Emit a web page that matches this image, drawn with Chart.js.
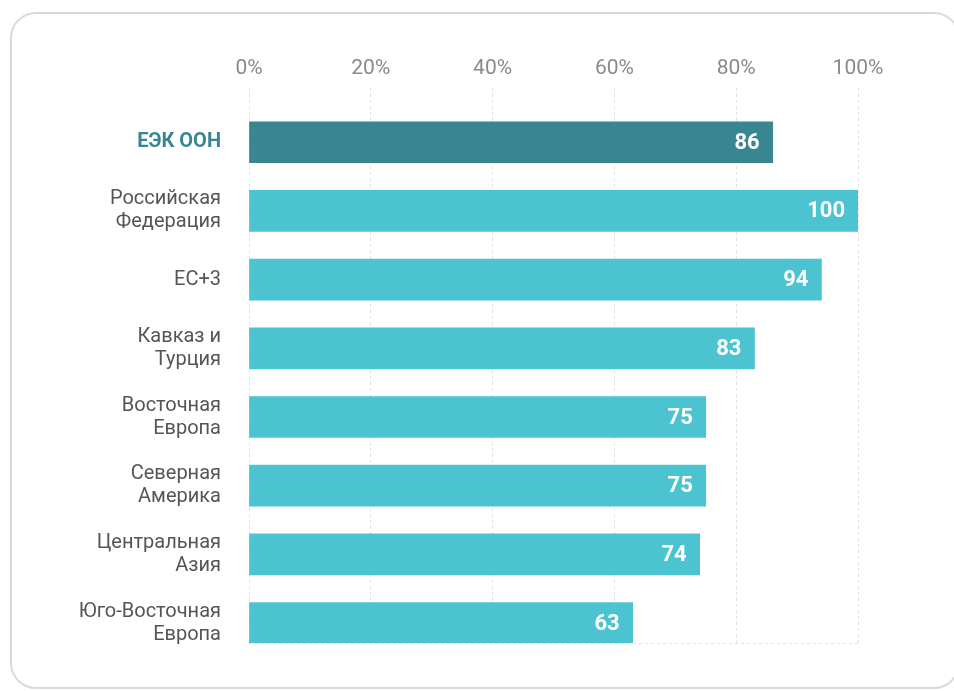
<!DOCTYPE html>
<html lang="ru">
<head>
    <meta charset="UTF-8">
    <title>ЕЭК ООН</title>
    <script src="https://cdn.jsdelivr.net/npm/chart.js"></script>
    <style>
        body { margin: 0; background: #fff; }
        #card { position: absolute; left: 10px; top: 12px; width: 950px; height: 677px;
                border: 2px solid #dadada; border-radius: 26px; box-sizing: border-box; }
        #c { position: absolute; left: 0; top: 0; }
    </style>
</head>
<body>
    <div id="card"></div>
    <canvas id="c" width="954" height="691"></canvas>

    <script>
        const regions = [
            'ЕЭК ООН',
            ['Российская', 'Федерация'],
            'ЕС+3',
            ['Кавказ и', 'Турция'],
            ['Восточная', 'Европа'],
            ['Северная', 'Америка'],
            ['Центральная', 'Азия'],
            ['Юго-Восточная', 'Европа']
        ];
        const scores = [86, 100, 94, 83, 75, 75, 74, 63];
        const xTicks = [0, 20, 40, 60, 80, 100];

        const dark = '#38868f';
        const light = '#4bc3d0';

        // value labels drawn inside the end of each bar
        const valueLabels = {
            id: 'valueLabels',
            afterDatasetsDraw(chart) {
                const ctx = chart.ctx;
                const meta = chart.getDatasetMeta(0);
                ctx.save();
                ctx.font = 'bold 22px Roboto';
                ctx.fillStyle = '#fff';
                ctx.textAlign = 'right';
                ctx.textBaseline = 'middle';
                meta.data.forEach((bar, i) => {
                    ctx.fillText(String(scores[i]), bar.x - 13, bar.y + 1);
                });
                ctx.restore();
            }
        };

        // dashed line along the bottom of the plot
        const bottomLine = {
            id: 'bottomLine',
            beforeDatasetsDraw(chart) {
                const { ctx, chartArea } = chart;
                ctx.save();
                ctx.strokeStyle = '#e2e2e2';
                ctx.lineWidth = 1;
                ctx.setLineDash([3, 3]);
                ctx.beginPath();
                ctx.moveTo(chartArea.left, chartArea.bottom + 0.5);
                ctx.lineTo(chartArea.right, chartArea.bottom + 0.5);
                ctx.stroke();
                ctx.restore();
            }
        };

        new Chart(document.getElementById('c'), {
            type: 'bar',
            data: {
                datasets: [{
                    data: scores.map((v, i) => ({ x: v, y: i })),
                    backgroundColor: ctx => ctx.dataIndex === 0 ? dark : light,
                    barThickness: 41
                }]
            },
            options: {
                indexAxis: 'y',
                responsive: false,
                animation: false,
                layout: { padding: { left: 10, top: 0, right: 96, bottom: 48 } },
                plugins: { legend: { display: false }, tooltip: { enabled: false } },
                scales: {
                    x: {
                        position: 'top',
                        min: 0,
                        max: 100,
                        afterBuildTicks: s => { s.ticks = xTicks.map(v => ({ value: v })); },
                        afterFit: s => { s.height = 88; },
                        grid: { color: '#e2e2e2', lineWidth: 1, drawTicks: false },
                        border: { display: false, dash: [3, 3] },
                        ticks: {
                            padding: 7,
                            color: '#8a8a8a',
                            font: { family: 'Roboto', size: 21 },
                            callback: v => v + '%'
                        }
                    },
                    y: {
                        type: 'linear',
                        reverse: true,
                        offset: false,
                        min: -0.79,
                        max: 7.29,
                        afterFit: s => { s.width = 239; },
                        grid: { display: false, offset: false },
                        border: { display: false },
                        ticks: {
                            stepSize: 1,
                            includeBounds: false,
                            padding: 20,
                            color: ctx => ctx.tick && ctx.tick.value === 0 ? dark : '#555',
                            font: ctx => ({
                                family: 'Roboto',
                                size: 20,
                                weight: ctx.tick && ctx.tick.value === 0 ? 'bold' : 'normal',
                                lineHeight: 1.15
                            }),
                            callback: v => Number.isInteger(v) ? regions[v] : ''
                        }
                    }
                }
            },
            plugins: [bottomLine, valueLabels]
        });
    </script>
</body>
</html>
